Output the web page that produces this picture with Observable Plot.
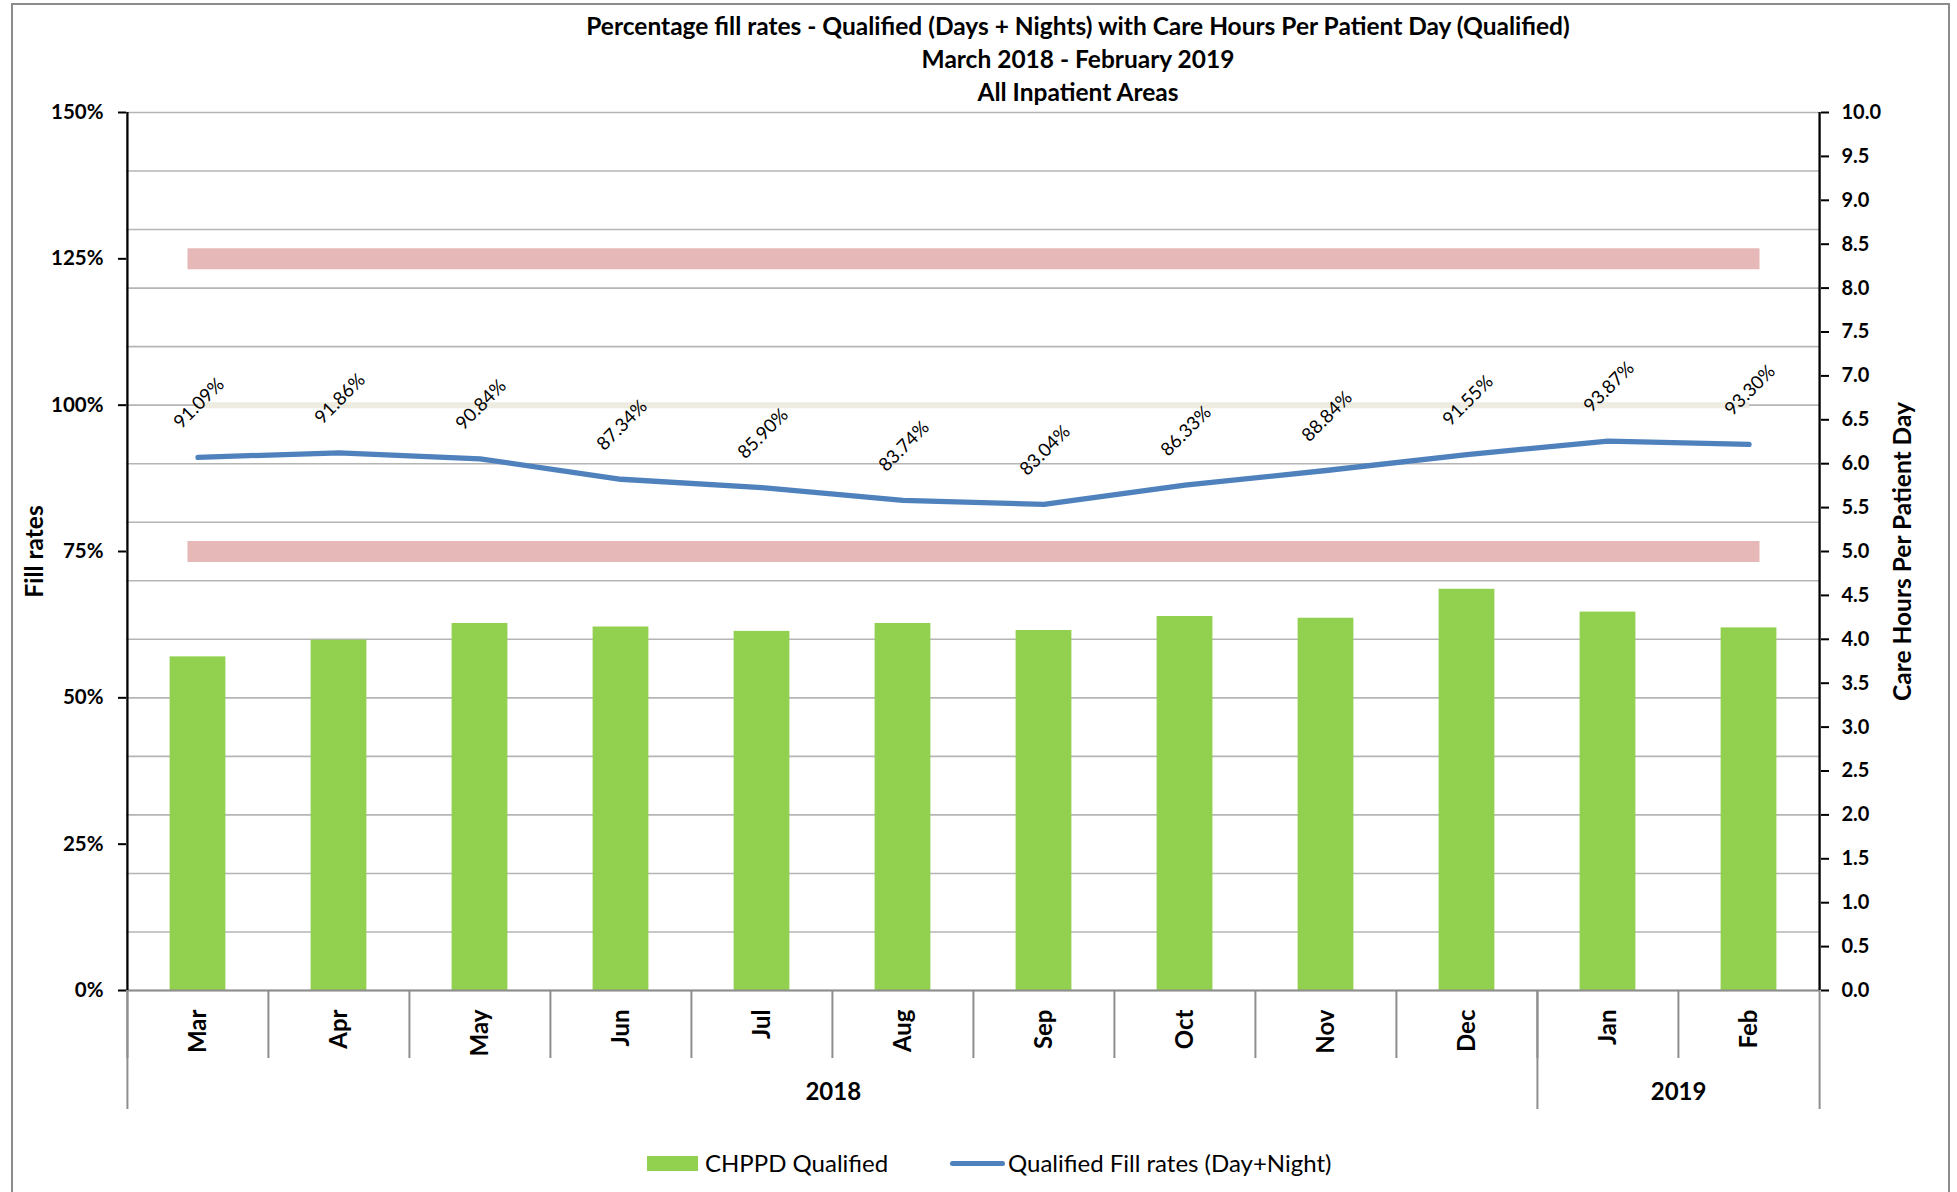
<!DOCTYPE html>
<html>
<head>
<meta charset="utf-8">
<script src="https://cdn.jsdelivr.net/npm/d3@7"></script>
<script src="https://cdn.jsdelivr.net/npm/@observablehq/plot@0.6"></script>
<style>
  body { margin: 0; background: #fff; font-family: Lato, "Open Sans", sans-serif; }
  #page { position: relative; width: 1957px; height: 1192px; overflow: hidden; background: #fff; }
  #border { position: absolute; left: 11px; top: 3px; width: 1939px; height: 1220px; border: 2px solid #8c8c8c; box-sizing: border-box; z-index: 3; pointer-events: none; }
  #title { position: absolute; left: 478px; width: 1200px; top: 9px; text-align: center; font-weight: bold; font-size: 24.5px; line-height: 33px; color: #000; z-index: 2; }
  #chart { position: absolute; left: 0; top: 100px; }
  .lg { position: absolute; font-size: 24px; line-height: 30px; top: 1148px; color: #000; white-space: nowrap; }
</style>
</head>
<body>
<div id="page">
  <div id="chart"></div>
  <div id="title"></div>
  <div id="legend"></div>
  <div id="border"></div>
</div>
<script>
// ---------- data ----------
const titleLines = [
  "Percentage fill rates - Qualified (Days + Nights) with Care Hours Per Patient Day (Qualified)",
  "March 2018 - February 2019",
  "All Inpatient Areas"
];
const months = ["Mar", "Apr", "May", "Jun", "Jul", "Aug", "Sep", "Oct", "Nov", "Dec", "Jan", "Feb"];
const chppdQualified = [3.80, 3.99, 4.18, 4.14, 4.09, 4.18, 4.10, 4.26, 4.24, 4.57, 4.31, 4.13];
const fillRates = [91.09, 91.86, 90.84, 87.34, 85.90, 83.74, 83.04, 86.33, 88.84, 91.55, 93.87, 93.30];
const upperBand = [125, 125, 125, 125, 125, 125, 125, 125, 125, 125, 125, 125];
const lowerBand = [75, 75, 75, 75, 75, 75, 75, 75, 75, 75, 75, 75];
const targetLine = [100, 100, 100, 100, 100, 100, 100, 100, 100, 100, 100, 100];
const yearGroups = [
  {label: "2018", first: "Mar", count: 10},
  {label: "2019", first: "Jan", count: 2}
];
const leftTicks = [0, 25, 50, 75, 100, 125, 150];
const gridTicks = [0, 10, 20, 30, 40, 50, 60, 70, 80, 90, 100, 110, 120, 130, 140, 150];
const rightTicks = [0, 0.5, 1, 1.5, 2, 2.5, 3, 3.5, 4, 4.5, 5, 5.5, 6, 6.5, 7, 7.5, 8, 8.5, 9, 9.5, 10];
const leftMax = 150, rightMax = 10;
const leftLabel = "Fill rates";
const rightLabel = "Care Hours Per Patient Day";
const legendBar = "CHPPD Qualified";
const legendLine = "Qualified Fill rates (Day+Night)";

// ---------- layout ----------
const W = 1957, H = 1030;
const mL = 126, mR = 137, mT = 12, mB = 140;
const frameH = H - mT - mB;
const step = (W - mL - mR) / months.length;
const k = leftMax / rightMax; // right-axis value -> left-axis scale

const rows = months.map((m, i) => ({
  month: m, chppd: chppdQualified[i], fill: fillRates[i],
  upper: upperBand[i], lower: lowerBand[i], target: targetLine[i]
}));

const FONT = "Lato, 'Open Sans', sans-serif";
const sepColor = "#8e8e8e";

const marks = [
  Plot.gridY(gridTicks, {stroke: "#b5b5b5", strokeOpacity: 1, strokeWidth: 1.6}),
  Plot.barY(rows, {x: "month", y: d => d.chppd * k, fill: "#92D050", insetLeft: 42.6, insetRight: 42.6}),
  Plot.lineY(rows, {x: "month", y: "upper", stroke: "#E6B9B8", strokeWidth: 21, strokeLinecap: "square"}),
  Plot.lineY(rows, {x: "month", y: "lower", stroke: "#E6B9B8", strokeWidth: 21, strokeLinecap: "square"}),
  Plot.lineY(rows, {x: "month", y: "target", stroke: "#EEECE1", strokeWidth: 6, strokeLinecap: "butt"}),
  Plot.lineY(rows, {x: "month", y: "fill", stroke: "#4F81BD", strokeWidth: 5.3, strokeLinecap: "round", strokeLinejoin: "round"}),
  Plot.text(rows, {x: "month", y: "fill", text: d => d.fill.toFixed(2) + "%", rotate: -45, dy: -54, dx: 1,
    fontSize: 18.5, fill: "#000", fontFamily: FONT}),
  // bottom axis line
  Plot.ruleY([0], {stroke: sepColor, strokeWidth: 2}),
  // category separators
  Plot.ruleX(months, {x: d => d, dx: -step / 2, insetTop: frameH, insetBottom: -68, stroke: sepColor, strokeWidth: 2}),
  // group separators
  Plot.ruleX(yearGroups, {x: "first", dx: -step / 2, insetTop: frameH, insetBottom: -119, stroke: sepColor, strokeWidth: 2}),
  Plot.ruleX([months[months.length - 1]], {x: d => d, dx: step / 2, insetTop: frameH, insetBottom: -119, stroke: sepColor, strokeWidth: 2}),
  // left and right axis lines
  Plot.ruleX([months[0]], {x: d => d, dx: -step / 2, stroke: "#000", strokeWidth: 2.3}),
  Plot.ruleX([months[months.length - 1]], {x: d => d, dx: step / 2, stroke: "#000", strokeWidth: 2.3}),
  Plot.axisY({anchor: "left", ticks: leftTicks, tickFormat: d => d + "%", tickSize: 8, tickPadding: 15,
    fontSize: 20.5, fontWeight: "bold", label: null, strokeWidth: 2}),
  Plot.axisY({anchor: "right", ticks: rightTicks.map(v => v * k), tickFormat: d => (d / k).toFixed(1), tickSize: 8, tickPadding: 13,
    fontSize: 20, fontWeight: "bold", label: null, strokeWidth: 2}),
  Plot.axisX({anchor: "bottom", tickSize: 0, tickPadding: 19, tickRotate: -90, fontSize: 24, fontWeight: "bold", label: null}),
  Plot.text([leftLabel], {frameAnchor: "left", textAnchor: "middle", dx: -91, rotate: -90, fontSize: 24.5, fontWeight: "bold", fill: "#000"}),
  Plot.text([rightLabel], {frameAnchor: "right", textAnchor: "middle", dx: 83, rotate: -90, fontSize: 24.5, fontWeight: "bold", fill: "#000"})
];
for (const g of yearGroups) {
  marks.push(Plot.text([g], {x: "first", text: "label", frameAnchor: "bottom", textAnchor: "middle", dy: 109,
    dx: g.count * step / 2 - step / 2, fontSize: 24, fontWeight: "bold", fill: "#000"}));
}

const chart = Plot.plot({
  width: W, height: H,
  marginLeft: mL, marginRight: mR, marginTop: mT, marginBottom: mB,
  style: {fontFamily: FONT, fontSize: "20px", color: "#000", background: "transparent"},
  x: {type: "band", domain: months, padding: 0, axis: null},
  y: {domain: [0, leftMax], axis: null},
  marks
});
document.getElementById("chart").appendChild(chart);

// title
const t = document.getElementById("title");
titleLines.forEach(s => { const d = document.createElement("div"); d.textContent = s; t.appendChild(d); });

// legend
const lg = document.getElementById("legend");
lg.innerHTML = `
  <div style="position:absolute;left:647px;top:1156px;width:51px;height:15px;background:#92D050"></div>
  <div class="lg" style="left:705px">${legendBar}</div>
  <div style="position:absolute;left:950px;top:1161px;width:55px;height:5px;border-radius:3px;background:#4F81BD"></div>
  <div class="lg" style="left:1008px">${legendLine}</div>`;
</script>
</body>
</html>
